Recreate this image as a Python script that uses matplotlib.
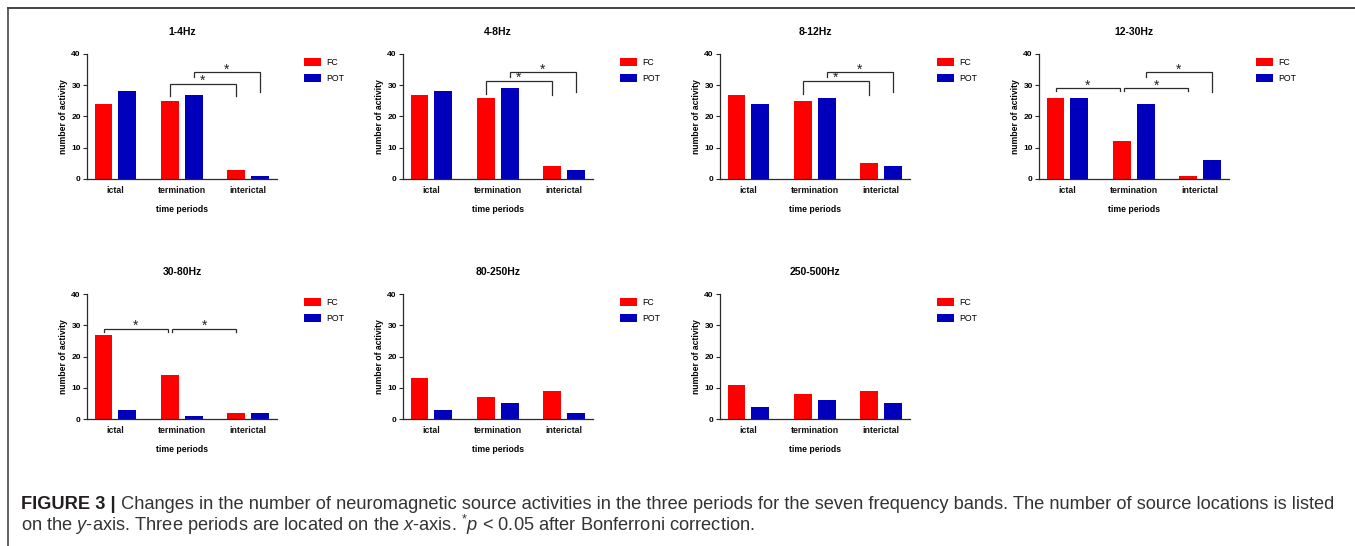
import matplotlib
matplotlib.use('Agg')
import matplotlib.pyplot as plt
from matplotlib.lines import Line2D
import numpy as np

# ---- data ----
periods = ['ictal', 'termination', 'interictal']
bands = ['1-4Hz', '4-8Hz', '8-12Hz', '12-30Hz', '30-80Hz', '80-250Hz', '250-500Hz']
series = ['FC', 'POT']
fc_counts = [[24, 25, 3], [27, 26, 4], [27, 25, 5], [26, 12, 1],
             [27, 14, 2], [13, 7, 9], [11, 8, 9]]
pot_counts = [[28, 27, 1], [28, 29, 3], [24, 26, 4], [26, 24, 6],
              [3, 1, 2], [3, 5, 2], [4, 6, 5]]
# significance brackets: (period a, series a, period b, series b, bar height, leg a end, leg b end)
brackets = [
    [(1, 'FC', 2, 'FC', 30.4, 26.7, 26.7), (1, 'POT', 2, 'POT', 34.2, 32.5, 27.7)],
    [(1, 'FC', 2, 'FC', 31.5, 27.3, 27.0), (1, 'POT', 2, 'POT', 34.2, 32.6, 27.7)],
    [(1, 'FC', 2, 'FC', 31.5, 27.3, 27.0), (1, 'POT', 2, 'POT', 34.2, 32.6, 27.7)],
    [(0, 'FC', 1, 'FC', 29.1, 28.0, 28.0), (1, 'FC', 2, 'FC', 29.1, 28.0, 28.0),
     (1, 'POT', 2, 'POT', 34.2, 32.6, 27.7)],
    [(0, 'FC', 1, 'FC', 28.9, 28.0, 28.0), (1, 'FC', 2, 'FC', 28.9, 28.0, 28.0)],
    [],
    [],
]
caption_head = 'FIGURE 3 |'
caption_1 = (' Changes in the number of neuromagnetic source activities in the three periods '
             'for the seven frequency bands. The number of source locations is listed')
caption_2 = (r'on the $\mathit{y}$-axis. Three periods are located on the $\mathit{x}$-axis. '
             r'$^{*}\mathit{p}$ < 0.05 after Bonferroni correction.')

# ---- style ----
W, H = 1355, 546
FONT = 'Liberation Sans'
plt.rcParams['font.family'] = [FONT, 'DejaVu Sans']
plt.rcParams['mathtext.fontset'] = 'custom'
plt.rcParams['mathtext.rm'] = FONT
plt.rcParams['mathtext.it'] = FONT + ':italic'
plt.rcParams['mathtext.bf'] = FONT + ':bold'

colors = {'FC': '#fe0000', 'POT': '#0000bc'}
offset = {'FC': -0.18, 'POT': 0.18}
bar_w = 0.27
axis_col = '#2b2b2b'

col_left = [87, 403, 720, 1039]
row_top = [54, 294]
ax_w, ax_h = 190, 125


def px_box(left, top, width, height):
    return [left / W, 1 - (top + height) / H, width / W, height / H]


def draw_bracket(ax, xa, xb, y, ya, yb):
    ax.plot([xa, xa, xb, xb], [ya, y, y, yb], color=axis_col, lw=0.9,
            solid_joinstyle='miter', clip_on=False)
    ax.text((xa + xb) / 2, y - 0.4, '*', ha='center', va='baseline',
            fontsize=10, color='#222222')


fig = plt.figure(figsize=(W / 100, H / 100), dpi=100)

for i, band in enumerate(bands):
    r, c = divmod(i, 4)
    ax = fig.add_axes(px_box(col_left[c], row_top[r], ax_w, ax_h))
    x = np.arange(len(periods))
    ax.bar(x + offset['FC'], fc_counts[i], bar_w, color=colors['FC'], label='FC')
    ax.bar(x + offset['POT'], pot_counts[i], bar_w, color=colors['POT'], label='POT')

    ax.set_xlim(-0.43, 2.44)
    ax.set_ylim(0, 40)
    ax.set_yticks([0, 10, 20, 30, 40])
    ax.set_xticks(x)
    ax.set_xticklabels(periods, fontsize=6.3, fontweight='bold', color='#111111')
    for lab in ax.get_yticklabels():
        lab.set_fontsize(6)
        lab.set_fontweight('bold')
    ax.tick_params(axis='x', length=0, pad=5.2)
    ax.tick_params(axis='y', length=3, width=0.8, pad=1.5, color=axis_col)
    for s in ['top', 'right']:
        ax.spines[s].set_visible(False)
    for s in ['left', 'bottom']:
        ax.spines[s].set_color(axis_col)
        ax.spines[s].set_linewidth(0.9)

    ax.set_title(band, fontsize=7.5, fontweight='bold', pad=14)
    ax.set_ylabel('number of activity', fontsize=6.2, fontweight='bold')
    ax.yaxis.set_label_coords(-0.10, 0.5)
    ax.set_xlabel('time periods', fontsize=6.2, fontweight='bold')
    ax.xaxis.set_label_coords(0.5, -0.205)

    ax.legend(loc='upper left', bbox_to_anchor=(1.142, 0.97), frameon=False,
              borderpad=0, borderaxespad=0, fontsize=6.3, handlelength=1.95,
              handleheight=1.05, handletextpad=0.55, labelspacing=0.85)

    # brackets sharing an end at the same height are pulled apart a little
    ends = {}
    for b in brackets[i]:
        ends.setdefault((b[0], b[1], b[4]), []).append('L')
        ends.setdefault((b[2], b[3], b[4]), []).append('R')
    for b in brackets[i]:
        xa = b[0] + offset[b[1]]
        xb = b[2] + offset[b[3]]
        if len(ends[(b[0], b[1], b[4])]) > 1:
            xa += 0.04
        if len(ends[(b[2], b[3], b[4])]) > 1:
            xb -= 0.03
        draw_bracket(ax, xa, xb, b[4], b[5], b[6])

# frame around the figure panel
fig.add_artist(Line2D([8 / W, 8 / W], [0, 1 - 8 / H], color='#444444', lw=1.2,
                      transform=fig.transFigure))
fig.add_artist(Line2D([8 / W, 1], [1 - 8 / H, 1 - 8 / H], color='#444444', lw=1.4,
                      transform=fig.transFigure))

# caption, sized so the first line spans the panel width
fig.canvas.draw()
rend = fig.canvas.get_renderer()
fs = 10.5
x0 = 21 / W
x_end = 1337
cap_col = '#333333'
t_head = fig.text(x0, 1 - 509 / H, caption_head, fontsize=fs, fontweight='bold',
                  color='#231f20')
t_1 = fig.text(0, 1 - 509 / H, caption_1, fontsize=fs, color=cap_col)
t_2 = fig.text(x0, 1 - 531 / H, caption_2, fontsize=fs, color=cap_col)
for _ in range(3):
    t_1.set_x(t_head.get_window_extent(rend).x1 / W)
    right = t_1.get_window_extent(rend).x1
    fs = fs * (x_end - 21) / (right - 21)
    for t in (t_head, t_1, t_2):
        t.set_fontsize(fs)
t_1.set_x(t_head.get_window_extent(rend).x1 / W)

fig.savefig('out.png', dpi=100)
